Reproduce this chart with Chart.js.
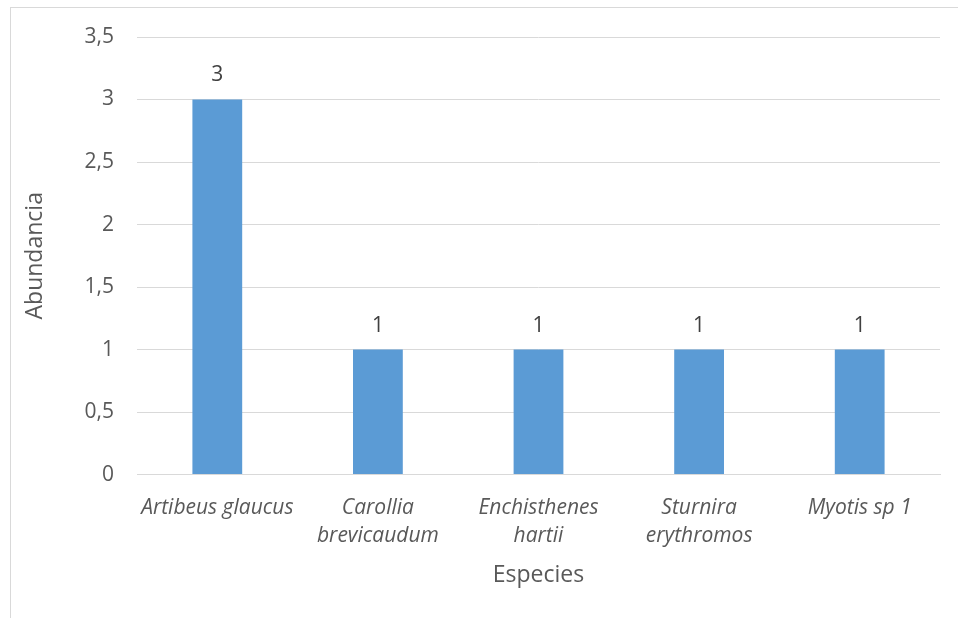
<!DOCTYPE html>
<html lang="es">
<head>
    <meta charset="utf-8" />
    <title>Abundancia por especie</title>
    <script src="https://cdn.jsdelivr.net/npm/chart.js"></script>
    <style>
        html, body {
            margin: 0;
            padding: 0;
            background: #fff;
        }
        #box {
            position: absolute;
            left: 10px;
            top: 7px;
            width: 948px;
            height: 611px;
            border-left: 1px solid #d9d9d9;
            border-top: 1px solid #d9d9d9;
        }
    </style>
</head>
<body>
<div id="box">
    <canvas id="chart" width="947" height="610"></canvas>
</div>

<script>
    // datos
    var especies = [
        "Artibeus glaucus",
        ["Carollia", "brevicaudum"],
        ["Enchisthenes", "hartii"],
        ["Sturnira", "erythromos"],
        "Myotis sp 1"
    ];
    var abundancia = [3, 1, 1, 1, 1];
    var yTicks = [0, 0.5, 1, 1.5, 2, 2.5, 3, 3.5];

    var textColor = "#595959";
    var fontName = "'Open Sans', sans-serif";

    // etiquetas de valor encima de cada barra
    var valueLabels = {
        id: "valueLabels",
        afterDatasetsDraw: function (chart) {
            var ctx = chart.ctx;
            var meta = chart.getDatasetMeta(0);
            ctx.save();
            ctx.font = "21px " + fontName;
            ctx.fillStyle = "#404040";
            ctx.textAlign = "center";
            ctx.textBaseline = "middle";
            meta.data.forEach(function (bar, i) {
                ctx.fillText(String(abundancia[i]).replace(".", ","), bar.x, bar.y - 24);
            });
            ctx.restore();
        }
    };

    var ctx = document.getElementById("chart").getContext("2d");
    var chart = new Chart(ctx, {
        type: "bar",
        data: {
            labels: especies,
            datasets: [{
                data: abundancia,
                backgroundColor: "#5b9bd5",
                barPercentage: 0.31,
                categoryPercentage: 1
            }]
        },
        plugins: [valueLabels],
        options: {
            responsive: false,
            animation: false,
            layout: {
                padding: { top: 29, right: 18, bottom: 29, left: 0 }
            },
            plugins: {
                legend: { display: false },
                tooltip: { enabled: false }
            },
            scales: {
                x: {
                    grid: { display: false, drawTicks: false },
                    border: { display: true, color: "#d9d9d9" },
                    ticks: {
                        color: textColor,
                        maxRotation: 0,
                        autoSkip: false,
                        padding: 19.5,
                        font: { family: fontName, size: 21, style: "italic", lineHeight: 1.33 }
                    },
                    title: {
                        display: true,
                        text: "Especies",
                        color: textColor,
                        padding: { top: -8, bottom: 0 },
                        font: { family: fontName, size: 23 }
                    }
                },
                y: {
                    min: 0,
                    max: 3.5,
                    afterFit: function (scale) {
                        scale.width = 126;
                        scale.paddingTop = 0;
                        scale.paddingBottom = 0;
                    },
                    afterBuildTicks: function (scale) {
                        scale.ticks = yTicks.map(function (v) { return { value: v }; });
                    },
                    grid: { color: "#d9d9d9", drawTicks: false },
                    border: { display: false },
                    ticks: {
                        color: textColor,
                        padding: 23,
                        font: { family: fontName, size: 21 },
                        callback: function (v) { return String(v).replace(".", ","); }
                    },
                    title: {
                        display: true,
                        text: "Abundancia",
                        color: textColor,
                        padding: { top: 11, bottom: 0 },
                        font: { family: fontName, size: 23 }
                    }
                }
            }
        }
    });
</script>
</body>
</html>
